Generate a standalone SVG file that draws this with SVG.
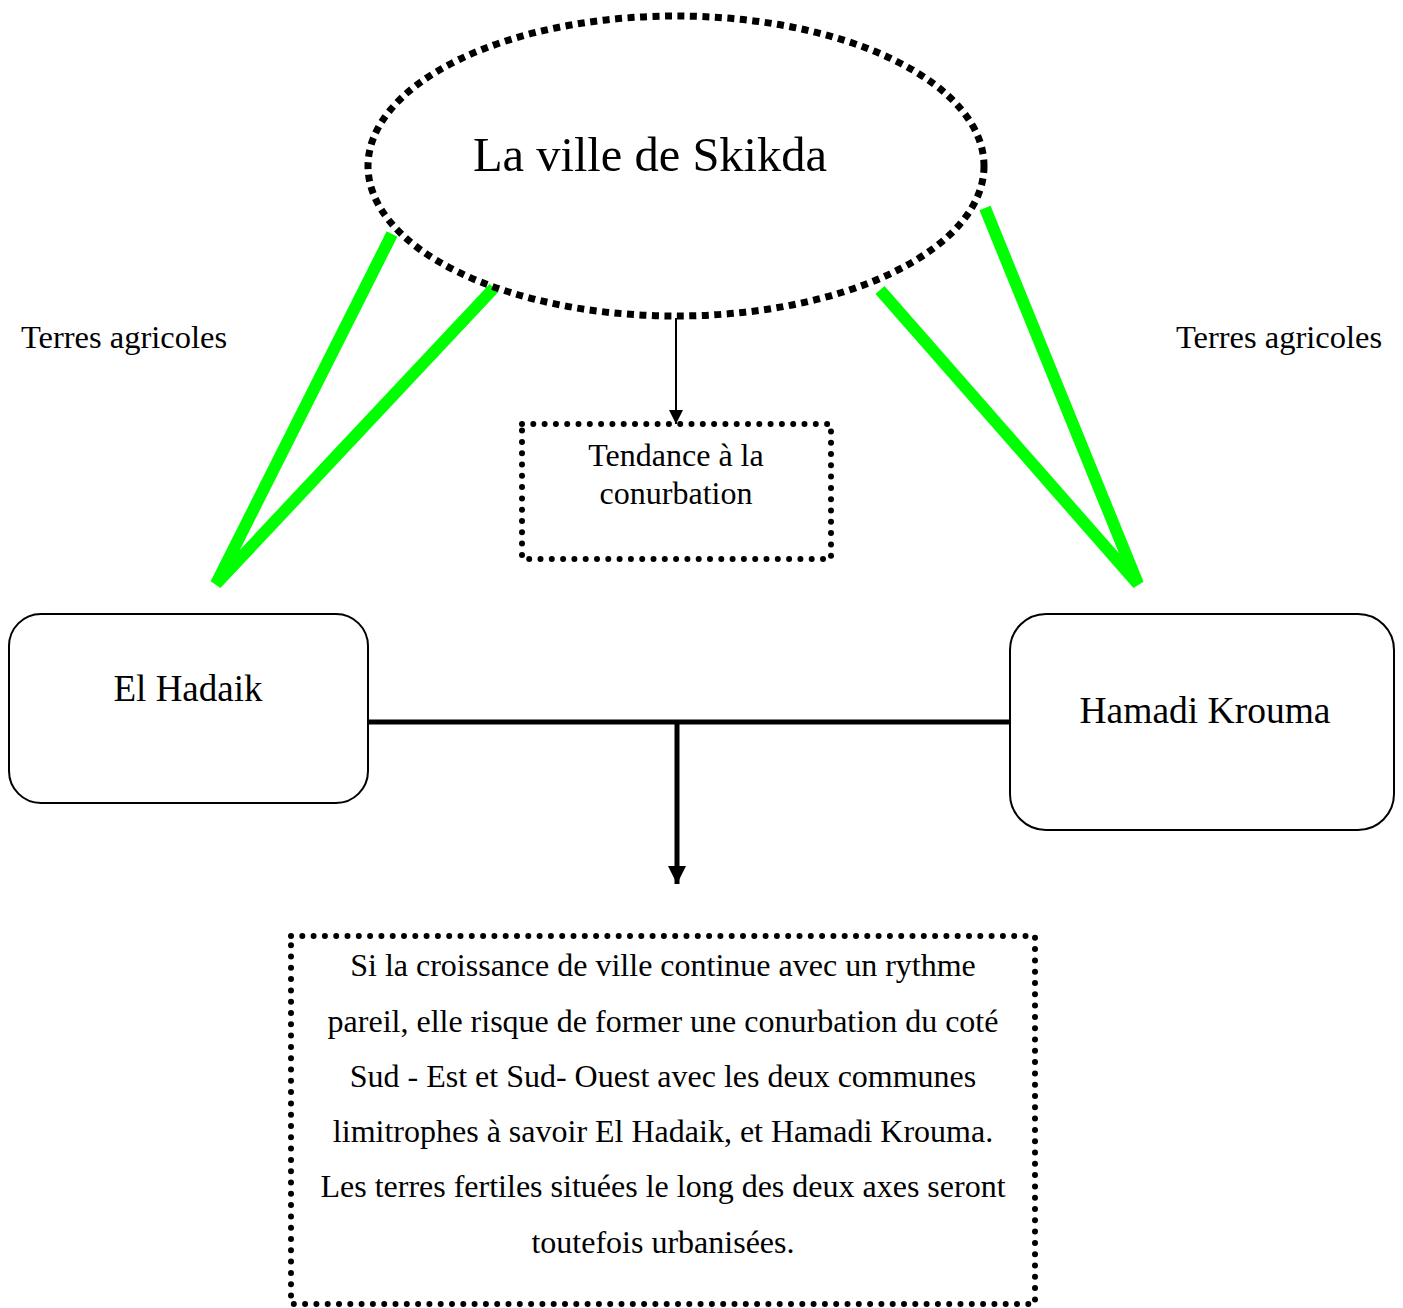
<svg xmlns="http://www.w3.org/2000/svg" width="1403" height="1308" viewBox="0 0 1403 1308">
  <defs>
    <style>
      text { font-family: "Liberation Serif", "Times New Roman", serif; fill: #000; text-anchor: middle; }
      .green { stroke: #00ff00; stroke-width: 12; fill: none; }
      .dots { fill: none; stroke: #000; stroke-width: 6; stroke-linecap: round; stroke-dasharray: 0 11.3; }
      .rbox { fill: #fff; stroke: #000; stroke-width: 2; }
    </style>
    <marker id="arrowSmall" viewBox="0 0 10 10" refX="10" refY="5" markerWidth="7" markerHeight="7" markerUnits="strokeWidth" orient="auto">
      <path d="M0,0 L10,5 L0,10 Z" fill="#000"/>
    </marker>
    <marker id="arrowBig" viewBox="0 0 10 10" refX="10" refY="5" markerWidth="3.6" markerHeight="3.6" markerUnits="strokeWidth" orient="auto">
      <path d="M0,0 L10,5 L0,10 Z" fill="#000"/>
    </marker>
  </defs>
  <rect width="1403" height="1308" fill="#fff"/>

  <!-- green links: agricultural land corridors -->
  <g id="connectors">
    <path class="green" d="M392,234 L216,584 L494,288"/>
    <path class="green" d="M985,208 L1138,584 L880,290"/>
    <line x1="676" y1="318" x2="676" y2="424" stroke="#000" stroke-width="2" marker-end="url(#arrowSmall)"/>
    <line x1="368" y1="722" x2="1010" y2="722" stroke="#000" stroke-width="5"/>
    <line x1="677" y1="722" x2="677" y2="884" stroke="#000" stroke-width="5" marker-end="url(#arrowBig)"/>
  </g>

  <g id="skikda">
    <ellipse cx="676" cy="166" rx="308" ry="150" fill="none" stroke="#000" stroke-width="7" stroke-dasharray="7 5.5"/>
    <text x="650" y="171" font-size="48.5">La ville de Skikda</text>
  </g>

  <g id="terres-gauche">
    <text x="124" y="348" font-size="32.5">Terres agricoles</text>
  </g>
  <g id="terres-droite">
    <text x="1279" y="348" font-size="32.5">Terres agricoles</text>
  </g>

  <g id="tendance">
    <rect class="dots" x="522" y="424" width="309" height="135"/>
    <text x="676" y="466" font-size="32">Tendance à la</text>
    <text x="676" y="504" font-size="32">conurbation</text>
  </g>

  <g id="el-hadaik">
    <rect class="rbox" x="9" y="614" width="359" height="189" rx="32"/>
    <text x="188" y="701" font-size="37">El Hadaik</text>
  </g>

  <g id="hamadi-krouma">
    <rect class="rbox" x="1010" y="614" width="384" height="216" rx="36"/>
    <text x="1205" y="723" font-size="37.5">Hamadi Krouma</text>
  </g>

  <g id="conclusion">
    <rect class="dots" x="291" y="936" width="744" height="368"/>
    <text x="663" y="976" font-size="32">Si la croissance de ville continue avec un rythme</text>
    <text x="663" y="1032" font-size="32">pareil, elle risque de former une conurbation du coté</text>
    <text x="663" y="1087" font-size="32">Sud - Est et Sud- Ouest avec les deux communes</text>
    <text x="663" y="1142" font-size="32">limitrophes à savoir El Hadaik, et Hamadi Krouma.</text>
    <text x="663" y="1197" font-size="32">Les terres fertiles situées le long des deux axes seront</text>
    <text x="663" y="1253" font-size="32">toutefois urbanisées.</text>
  </g>
</svg>
